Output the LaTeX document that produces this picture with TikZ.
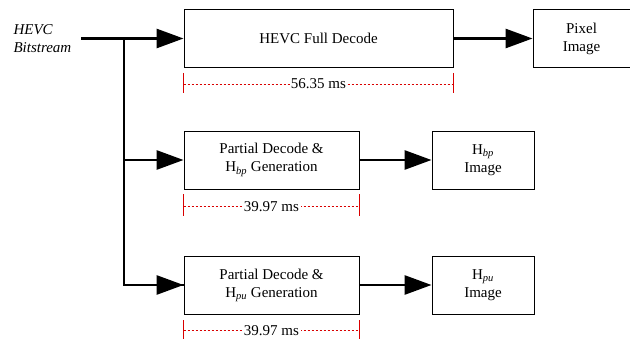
\documentclass[tikz,border=0pt]{standalone}
\usepackage{fontspec}
\setmainfont{Liberation Serif}
\usepackage{xcolor}
\usetikzlibrary{positioning,arrows.meta,calc}

\begin{document}
\begin{tikzpicture}[x=1pt,y=-1pt,
    box/.style={draw, line width=0.9pt, align=center, inner sep=0pt, font=\fontsize{15}{18}\selectfont},
    flow/.style={line width=2.8pt, -{Triangle[length=27pt,width=19pt]}},
    trunk/.style={line width=2.8pt},
    dimline/.style={red!85!black, line width=0.8pt, dash pattern=on 2.5pt off 1.5pt},
    dimtick/.style={red!85!black, line width=1pt},
    dimtext/.style={fill=white, text=black, inner sep=2pt, font=\fontsize{15}{18}\selectfont}]
    \useasboundingbox (0,0) rectangle (630,339);

    % Input label
    \node (bits) at (10,38.5) [anchor=west, align=left, font=\fontsize{15}{18}\selectfont\itshape] {HEVC\\Bitstream};
    \coordinate (src) at (81,38.5);
    \coordinate (split) at (124,38.5);

    % Decode boxes
    \node (full) at (318.5,38.5) [box, minimum width=269pt, minimum height=58pt] {HEVC Full Decode};
    \node (pix) at (581.5,38.5) [box, minimum width=97pt, minimum height=58pt] {Pixel\\Image};

    \node (bp) at (271.5,160) [box, minimum width=175pt, minimum height=58pt] {Partial Decode \&\\H\textsubscript{\itshape bp} Generation};
    \node (hbp) at (483,160) [box, minimum width=102pt, minimum height=58pt] {H\textsubscript{\itshape bp}\\Image};

    \node (pu) at (271.5,285) [box, minimum width=175pt, minimum height=58pt] {Partial Decode \&\\H\textsubscript{\itshape pu} Generation};
    \node (hpu) at (483,285) [box, minimum width=102pt, minimum height=58pt] {H\textsubscript{\itshape pu}\\Image};

    % Arrows
    \draw[trunk] (src) -- (split) |- (pu.west);
    \draw[flow] (split) -- (full.west);
    \draw[flow] (split |- bp.west) -- (bp.west);
    \draw[flow] (split |- pu.west) -- (pu.west);
    \draw[flow] (full) -- (pix);
    \draw[flow] (bp) -- (hbp);
    \draw[flow] (pu) -- (hpu);

    % Timings
    \draw[dimtick] ([yshift=-5pt]full.south west) -- ++(0,20);
    \draw[dimtick] ([yshift=-5pt]full.south east) -- ++(0,20);
    \draw[dimline] ([yshift=-16pt]full.south west) -- ([yshift=-16pt]full.south east)
        node[midway, dimtext, inner sep=0pt] {56.35 ms};

    \draw[dimtick] ([yshift=-5pt]bp.south west) -- ++(0,22);
    \draw[dimtick] ([yshift=-5pt]bp.south east) -- ++(0,22);
    \draw[dimline] ([yshift=-17pt]bp.south west) -- ([yshift=-17pt]bp.south east)
        node[midway, dimtext] {39.97 ms};

    \draw[dimtick] ([yshift=-6pt]pu.south west) -- ++(0,20);
    \draw[dimtick] ([yshift=-6pt]pu.south east) -- ++(0,20);
    \draw[dimline] ([yshift=-16pt]pu.south west) -- ([yshift=-16pt]pu.south east)
        node[midway, dimtext] {39.97 ms};
\end{tikzpicture}
\end{document}
